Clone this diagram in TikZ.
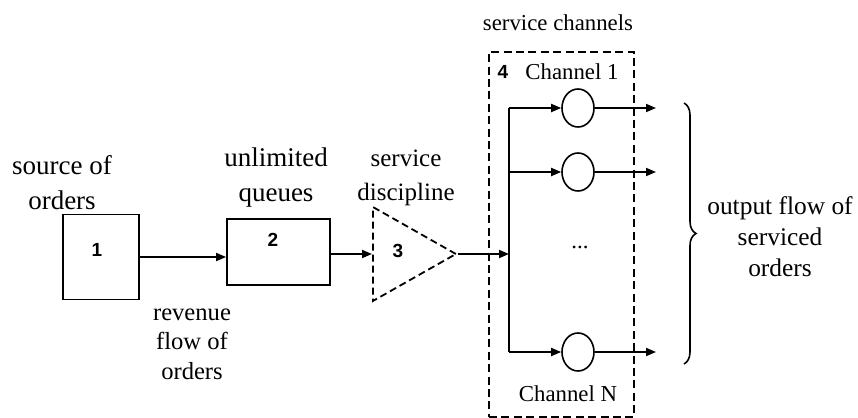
\documentclass[tikz,border=0pt]{standalone}
\usepackage{fontspec}
\setmainfont{Liberation Serif}
\newfontfamily\numfont{Liberation Sans}
\usepackage{tikz}
\usetikzlibrary{shapes.geometric, arrows.meta, positioning, calc, decorations.pathreplacing}
\tikzset{
  box/.style={rectangle, draw, line width=0.9pt, inner sep=0pt},
  chan/.style={ellipse, draw, line width=0.8pt, minimum width=16pt, minimum height=19pt, inner sep=0pt},
  num/.style={font=\numfont\bfseries\fontsize{9.5}{11}\selectfont},
  lbl/.style={align=center, font=\fontsize{13.5}{17.5}\selectfont},
  slbl/.style={align=center, font=\fontsize{12.3}{14.8}\selectfont},
  clbl/.style={font=\fontsize{11.4}{13}\selectfont},
  arrow/.style={-{Triangle[length=5pt, width=4pt]}, line width=0.9pt},
  dline/.style={dashed, dash pattern=on 4pt off 2.2pt, line width=1.1pt},
}

\begin{document}
\begin{tikzpicture}[x=0.5pt, y=-0.5pt]
  \useasboundingbox (0,0) rectangle (858,418);

  % source of orders
  \node[box, minimum width=38pt, minimum height=42.5pt] (src) at (101,257) {};
  \node[num] (n1) at (97,250) {1};
  \node[lbl] (srcl) at (62,183) {source of\\orders};

  % queues
  \node[box, minimum width=51.5pt, minimum height=33pt] (queue) at (278.5,252) {};
  \node[num] (n2) at (273,240) {2};
  \node[lbl] (queuel) at (276,178) {unlimited\\queues};

  \draw[arrow] (src.east) -- (src.east -| queue.west);
  \node[slbl] (revl) at (192,344) {revenue\\flow of\\orders};

  % service discipline
  \node[isosceles triangle, isosceles triangle stretches, draw, dashed,
        dash pattern=on 3.5pt off 2pt, line width=0.9pt, inner sep=0pt,
        minimum width=47pt, minimum height=41.5pt, anchor=lower side] (disc) at (372,254) {};
  \node[num] (n3) at (398,251) {3};
  \node[slbl, font=\fontsize{12.5}{17}\selectfont] (discl) at (406,178) {service\\discipline};

  \draw[arrow] (queue.east |- disc.lower side) -- (disc.lower side);

  % service channels
  \node[dline, rectangle, draw, minimum width=72.5pt, minimum height=182.5pt] (chbox) at (561.5,234.5) {};
  \node[clbl] (chl) at (558,23) {service channels};
  \node[num] (n4) at (503,72) {4};
  \node[clbl] (ch1l) at (572,72) {Channel 1};
  \node[clbl] (chnl) at (568,394) {Channel N};
  \node[clbl] (dots) at (580,247) {...};

  \coordinate (trunk) at (509,254);
  \draw[arrow] (disc.apex) -- (trunk);
  \foreach \i/\y in {1/108, 2/172, n/352} {
    \coordinate (t\i) at (509,\y);
    \node[chan] (ch\i) at (578,\y) {};
    \coordinate (o\i) at (656,\y);
    \draw[arrow] (t\i) -- (ch\i.west);
    \draw[arrow] (ch\i.east) -- (o\i);
  }
  \draw[line width=0.9pt] (t1) -- (tn);

  % output flow
  \coordinate (bt) at (684,103);
  \coordinate (bb) at (684,364);
  \draw[line width=0.8pt, decorate, decoration={brace, amplitude=6pt}] (bt) -- (bb);
  \node[slbl, font=\fontsize{12.7}{15.5}\selectfont] (outl) at (780,237) {output flow of\\serviced\\orders};
\end{tikzpicture}
\end{document}
